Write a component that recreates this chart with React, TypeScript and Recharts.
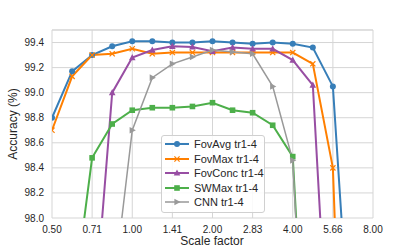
import { LineChart, Line, XAxis, YAxis, CartesianGrid, ReferenceLine } from "recharts";

// scale factors (quarter-octave steps)
const scaleFactors = [0.5, 0.595, 0.707, 0.841, 1, 1.189, 1.414, 1.682, 2, 2.378, 2.828, 3.364, 4, 4.757, 5.657, 6.727, 8];

const fovAvg = [98.8, 99.17, 99.3, 99.37, 99.41, 99.41, 99.4, 99.4, 99.41, 99.4, 99.39, 99.4, 99.39, 99.36, 99.05, 96.6, null];
const fovMax = [98.7, 99.13, 99.3, 99.31, 99.35, 99.31, 99.32, 99.32, 99.32, 99.32, 99.32, 99.32, 99.32, 99.23, 98.4, 94.0, null];
const fovConc = [null, null, 97.0, 99.0, 99.28, 99.34, 99.37, 99.365, 99.33, 99.36, 99.35, 99.35, 99.26, 99.06, 96.2, null, null];
const swMax = [null, 97.25, 98.48, 98.75, 98.86, 98.88, 98.88, 98.89, 98.92, 98.86, 98.84, 98.74, 98.49, 95.6, null, null, null];
const cnn = [null, null, null, 97.35, 98.7, 99.12, 99.23, 99.285, 99.34, 99.325, 99.31, 99.05, 98.46, 95.4, null, null, null];

const xTicks = [0.5, 0.7071, 1, 1.4142, 2, 2.8284, 4, 5.6569, 8];
const yTicks = [98.0, 98.2, 98.4, 98.6, 98.8, 99.0, 99.2, 99.4];

type Shape = "circle" | "x" | "triUp" | "square" | "triRight";

const series: { key: string; name: string; color: string; shape: Shape; width: number }[] = [
  { key: "fovAvg", name: "FovAvg tr1-4", color: "#377eb8", shape: "circle", width: 2 },
  { key: "fovMax", name: "FovMax tr1-4", color: "#ff7f00", shape: "x", width: 2 },
  { key: "fovConc", name: "FovConc tr1-4", color: "#984ea3", shape: "triUp", width: 2 },
  { key: "swMax", name: "SWMax tr1-4", color: "#4daf4a", shape: "square", width: 2 },
  { key: "cnn", name: "CNN tr1-4", color: "#999999", shape: "triRight", width: 1.5 },
];

const data = scaleFactors.map((x, i) => ({
  x,
  fovAvg: fovAvg[i],
  fovMax: fovMax[i],
  fovConc: fovConc[i],
  swMax: swMax[i],
  cnn: cnn[i],
}));

const FONT = '"Liberation Sans", Arial, sans-serif';
const GRID = "#d5d5d5";
const TEXT = "#262626";

function marker(shape: Shape, color: string, cx: number, cy: number, key?: any) {
  switch (shape) {
    case "circle":
      return <circle key={key} cx={cx} cy={cy} r={3} fill={color} />;
    case "x":
      return (
        <g key={key} stroke={color} strokeWidth={1.2}>
          <line x1={cx - 2.6} y1={cy - 2.6} x2={cx + 2.6} y2={cy + 2.6} />
          <line x1={cx - 2.6} y1={cy + 2.6} x2={cx + 2.6} y2={cy - 2.6} />
        </g>
      );
    case "triUp":
      return (
        <polygon
          key={key}
          points={`${cx},${cy - 3.6} ${cx - 3.3},${cy + 2.6} ${cx + 3.3},${cy + 2.6}`}
          fill={color}
        />
      );
    case "square":
      return <rect key={key} x={cx - 2.8} y={cy - 2.8} width={5.6} height={5.6} fill={color} />;
    case "triRight":
      return (
        <polygon
          key={key}
          points={`${cx + 3.6},${cy} ${cx - 2.6},${cy - 3.3} ${cx - 2.6},${cy + 3.3}`}
          fill={color}
        />
      );
  }
}

function Legend() {
  return (
    <div
      style={{
        position: "absolute",
        left: 161,
        top: 135,
        width: 102,
        height: 75,
        border: "1px solid #d0d0d0",
        borderRadius: 3,
        background: "rgba(255,255,255,0.85)",
        paddingTop: 1,
        fontFamily: FONT,
        fontSize: 11,
        color: TEXT,
      }}
    >
      {series.map((s) => (
        <div key={s.key} style={{ display: "flex", alignItems: "center", height: 14.5 }}>
          <svg width={24} height={14} style={{ marginLeft: 3, marginRight: 5 }}>
            <line x1={0} y1={7} x2={24} y2={7} stroke={s.color} strokeWidth={s.width} />
            {marker(s.shape, s.color, 12, 7)}
          </svg>
          <span style={{ whiteSpace: "nowrap" }}>{s.name}</span>
        </div>
      ))}
    </div>
  );
}

export default function App() {
  return (
    <div style={{ position: "absolute", left: 0, top: 0, width: 415, height: 249, background: "#fff" }}>
      <LineChart
        width={415}
        height={249}
        data={data}
        margin={{ top: 30, right: 42, bottom: 0, left: 0 }}
      >
        <CartesianGrid stroke={GRID} strokeWidth={1} />
        <XAxis
          dataKey="x"
          type="number"
          scale="log"
          domain={[0.5, 8]}
          ticks={xTicks}
          allowDataOverflow
          tickFormatter={(v: number) => v.toFixed(2)}
          axisLine={false}
          tickLine={false}
          tickSize={6}
          height={31}
          tick={{ fill: TEXT, fontSize: 10, fontFamily: FONT }}
          label={{
            content: () => (
              <text x={212} y={245} textAnchor="middle" fill={TEXT} fontSize={12} fontFamily={FONT}>
                Scale factor
              </text>
            ),
          }}
        />
        <YAxis
          type="number"
          domain={[98, 99.5]}
          ticks={yTicks}
          allowDataOverflow
          tickFormatter={(v: number) => v.toFixed(1)}
          axisLine={false}
          tickLine={false}
          tickSize={6}
          width={52}
          tick={{ fill: TEXT, fontSize: 10, fontFamily: FONT }}
          label={{
            content: () => (
              <text
                x={14}
                y={124}
                transform="rotate(-90 14 124)"
                textAnchor="middle"
                dominantBaseline="middle"
                fill={TEXT}
                fontSize={12}
                fontFamily={FONT}
              >
                Accuracy (%)
              </text>
            ),
          }}
        />
        <ReferenceLine y={99.5} stroke={GRID} strokeWidth={1} ifOverflow="extendDomain" />
        {series.map((s) => (
          <Line
            key={s.key}
            dataKey={s.key}
            name={s.name}
            stroke={s.color}
            strokeWidth={s.width}
            isAnimationActive={false}
            connectNulls={false}
            dot={(p: any) =>
              p.cx == null || p.cy == null || p.value == null ? (
                <g key={p.key ?? `${s.key}-${p.index}`} />
              ) : (
                marker(s.shape, s.color, p.cx, p.cy, p.key ?? `${s.key}-${p.index}`)
              )
            }
            activeDot={false}
          />
        ))}
      </LineChart>
      <Legend />
    </div>
  );
}
